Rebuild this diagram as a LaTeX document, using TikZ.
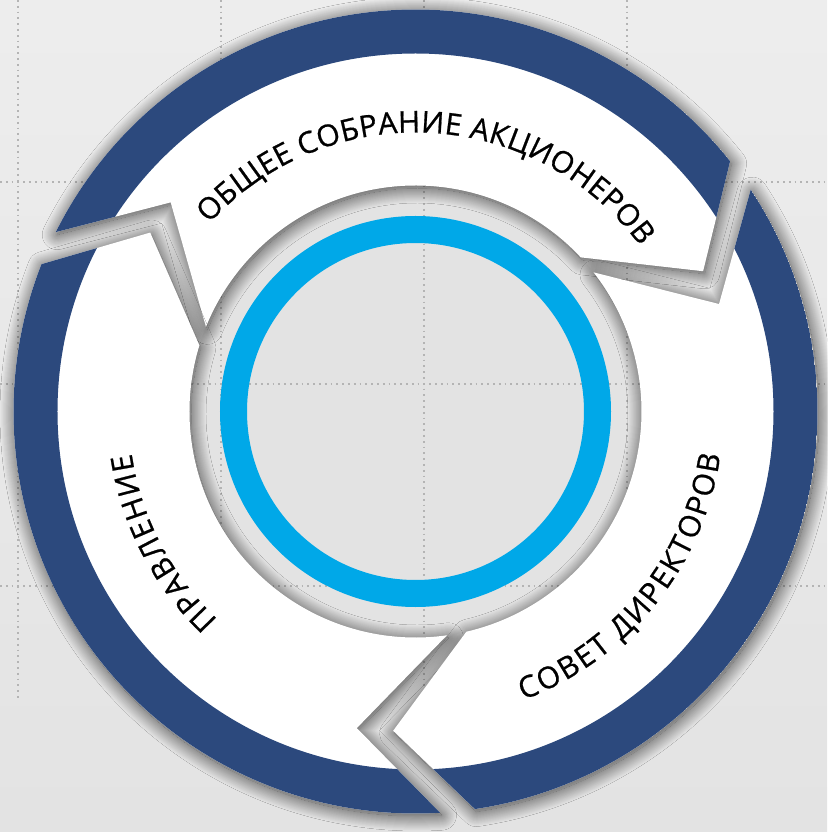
\documentclass[tikz,border=0pt]{standalone}
\usepackage{fontspec}
\newfontfamily\labelfont[FakeBold=0.7]{Open Sans}
\usetikzlibrary{decorations.text,shadows.blur}

\definecolor{ringdark}{HTML}{2C497D}
\definecolor{ringblue}{HTML}{00A8E8}
\definecolor{diskgray}{HTML}{E3E3E3}
\definecolor{gridgray}{HTML}{B4B4B4}

% one arrow segment: head at angle #1, notched tail at #1+120
\newcommand{\arrowseg}[1]{%
  ({#1+115}:402) arc[start angle={#1+115}, end angle={#1}, radius=402]
  -- ({#1-12.5}:320) -- ({#1+4.5}:226)
  arc[start angle={#1+4.5}, end angle={#1+119.5}, radius=226]
  -- ({#1+101}:322) -- cycle}

\begin{document}
\begin{tikzpicture}[x=1pt, y=1pt,
    segment/.style={fill=white,
      blur shadow={shadow xshift=1.5pt, shadow yshift=-2.5pt, shadow blur radius=15pt,
        shadow blur steps=30, shadow opacity=75},
      path picture={\draw[ringdark, line width=44] (0,0) circle (380);}},
    gridline/.style={gridgray, line width=1.8, dash pattern=on 1.8 off 4},
    arctext/.style={decorate, decoration={text along path, text align={fit to path}}}]
  \useasboundingbox (-415.5,-420.5) rectangle (411.5,411.5);
  \shade[top color=black!7, bottom color=black!11] (-415.5,-420.5) rectangle (411.5,411.5);

  \fill[diskgray] (0,0) circle (226);
  \foreach \gx in {-397.5,-194.5,8.5,211.5}
    \draw[gridline] (\gx,411.5) -- (\gx,-290);
  \foreach \gy in {229.5,27.5,-174.5}
    \draw[gridline] (-415.5,\gy) -- (411.5,\gy);

  \foreach \h in {38.5,158.5,278.5}
    \fill[segment] \arrowseg{\h};

  \draw[ringblue, line width=27] (0,0) circle (182);

  \path[arctext, decoration={text={|\labelfont\fontsize{30}{32}\selectfont|ОБЩЕЕ СОБРАНИЕ АКЦИОНЕРОВ}}]
    (137.7:279) arc[start angle=137.7, end angle=36.3, radius=279];
  \path[arctext, decoration={text={|\labelfont\fontsize{30}{32}\selectfont|ПРАВЛЕНИЕ}}]
    (226.5:287) arc[start angle=226.5, end angle=188.4, radius=287];
  \path[arctext, decoration={text={|\labelfont\fontsize{30}{32}\selectfont|СОВЕТ ДИРЕКТОРОВ}}]
    (-69.5:308) arc[start angle=-69.5, end angle=-8.1, radius=308];
\end{tikzpicture}
\end{document}
